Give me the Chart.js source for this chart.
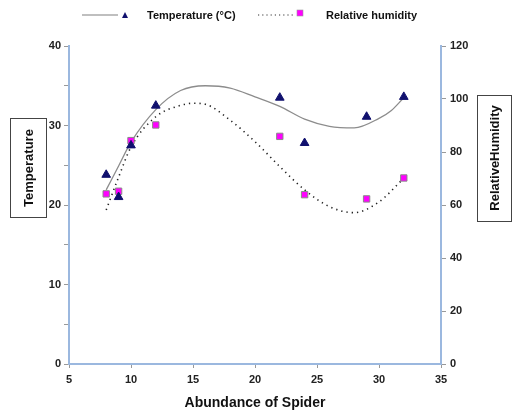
<!DOCTYPE html>
<html><head><meta charset="utf-8">
<script src="https://cdn.jsdelivr.net/npm/chart.js@4"></script>
<style>html,body{margin:0;padding:0;background:#fff}#wrap{width:513px;height:414px;position:relative}</style>
</head><body><div id="wrap"><canvas id="c" width="513" height="414"></canvas></div>
<script>
// Data
const abundance = [8, 9, 10, 12, 22, 24, 29, 32];
const temperature = [23.8, 21.0, 27.5, 32.5, 33.5, 27.8, 31.1, 33.6];
const humidity = [64.2, 65.2, 84.3, 90.2, 85.9, 63.9, 62.3, 70.2];
// Trendlines
const tempTrendX = [8, 9, 10, 12, 14, 16, 18, 20, 22, 24, 26, 28, 30, 31, 32];
const tempTrendY = [21.9, 24.9, 27.9, 32.0, 34.4, 35.0, 34.7, 33.6, 32.4, 30.8, 29.9, 29.7, 30.9, 31.9, 33.5];
const humTrendX = [8, 9, 10, 12, 14, 15, 16, 18, 20, 22, 24, 26, 28, 30, 32];
const humTrendY = [58.1, 70.5, 81.9, 93.3, 97.6, 98.4, 98.0, 92.0, 83.9, 74.5, 65.7, 59.4, 57.1, 61.2, 70.1];
const xTicks = [5, 10, 15, 20, 25, 30, 35];
const leftTicks = [0, 10, 20, 30, 40];
const rightTicks = [0, 20, 40, 60, 80, 100, 120];
const legendLabels = ['Temperature (°C)', 'Relative humidity'];
const axisTitles = {x: 'Abundance of Spider', left: 'Temperature', right: 'RelativeHumidity'};

const pts = (xs, ys) => xs.map((x, i) => ({x: x, y: ys[i]}));
const FONT = '"Liberation Sans", Arial, sans-serif';
const AXIS_BLUE = '#9bb8df';
const NAVY = '#10106e';
const MAGENTA = '#ff00ff';

const overlay = {
  id: 'overlay',
  afterDraw(chart) {
    const ctx = chart.ctx;
    ctx.save();
    // legend
    const ly = 15;
    ctx.strokeStyle = '#808080'; ctx.lineWidth = 1.2; ctx.setLineDash([]);
    ctx.beginPath(); ctx.moveTo(82, ly); ctx.lineTo(118, ly); ctx.stroke();
    ctx.fillStyle = NAVY;
    ctx.beginPath(); ctx.moveTo(125, ly - 3); ctx.lineTo(128, ly + 3); ctx.lineTo(122, ly + 3); ctx.closePath(); ctx.fill();
    ctx.font = 'bold 11px ' + FONT; ctx.fillStyle = '#111'; ctx.textBaseline = 'middle'; ctx.textAlign = 'left';
    ctx.fillText(legendLabels[0], 147, ly + 1);
    ctx.strokeStyle = '#333'; ctx.setLineDash([1.2, 3]);
    ctx.beginPath(); ctx.moveTo(258, ly); ctx.lineTo(295, ly); ctx.stroke();
    ctx.setLineDash([]);
    ctx.fillStyle = MAGENTA; ctx.fillRect(297, ly - 5, 6, 6);
    ctx.strokeStyle = '#999'; ctx.lineWidth = 0.6; ctx.strokeRect(297, ly - 5, 6, 6);
    ctx.fillStyle = '#111';
    ctx.fillText(legendLabels[1], 326, ly + 1);
    // left title box
    ctx.strokeStyle = '#444'; ctx.lineWidth = 1;
    ctx.strokeRect(10.5, 118.5, 36, 99);
    ctx.save(); ctx.translate(29, 168); ctx.rotate(-Math.PI / 2);
    ctx.font = 'bold 13px ' + FONT; ctx.textAlign = 'center'; ctx.textBaseline = 'middle';
    ctx.fillText(axisTitles.left, 0, 0); ctx.restore();
    // right title box
    ctx.strokeRect(477.5, 95.5, 34, 126);
    ctx.save(); ctx.translate(495, 158); ctx.rotate(-Math.PI / 2);
    ctx.font = 'bold 13px ' + FONT; ctx.textAlign = 'center'; ctx.textBaseline = 'middle';
    ctx.fillText(axisTitles.right, 0, 0); ctx.restore();
    ctx.restore();
  }
};

new Chart(document.getElementById('c'), {
  type: 'scatter',
  data: {
    datasets: [
      {label: 'Temperature (°C)', data: pts(abundance, temperature), yAxisID: 'y', pointStyle: 'triangle', pointRadius: 5, backgroundColor: NAVY, borderColor: NAVY, borderWidth: 1, showLine: false},
      {label: 'Relative humidity', data: pts(abundance, humidity), yAxisID: 'y1', pointStyle: 'rect', pointRadius: 4.5, backgroundColor: MAGENTA, borderColor: '#8a8a8a', borderWidth: 1, showLine: false},
      {label: 'Temp trend', data: pts(tempTrendX, tempTrendY), yAxisID: 'y', showLine: true, pointRadius: 0, borderColor: '#8c8c8c', borderWidth: 1.3, cubicInterpolationMode: 'monotone', fill: false},
      {label: 'Hum trend', data: pts(humTrendX, humTrendY), yAxisID: 'y1', showLine: true, pointRadius: 0, borderColor: '#222', borderWidth: 1.6, borderDash: [1.3, 4], cubicInterpolationMode: 'monotone', fill: false}
    ]
  },
  options: {
    responsive: false, animation: false, devicePixelRatio: 1,
    layout: {padding: {top: 46, bottom: 0, left: 0, right: 0}},
    plugins: {legend: {display: false}, tooltip: {enabled: false}},
    scales: {
      x: {
        type: 'linear', min: 5, max: 35,
        afterBuildTicks: s => { s.ticks = xTicks.map(v => ({value: v})); },
        afterFit: s => { s.height = 50; },
        border: {color: AXIS_BLUE, width: 2},
        grid: {drawOnChartArea: false, drawTicks: true, tickLength: 4, color: '#999'},
        ticks: {color: '#222', font: {family: FONT, size: 11, weight: 'bold'}, padding: 5},
        title: {display: true, text: axisTitles.x, color: '#111', font: {family: FONT, size: 14, weight: 'bold'}, padding: {top: 6, bottom: 2}}
      },
      y: {
        type: 'linear', position: 'left', min: 0, max: 40,
        ticks: {stepSize: 5, callback: v => leftTicks.includes(v) ? String(v) : '', color: '#222', font: {family: FONT, size: 11, weight: 'bold'}, padding: 3},
        afterFit: s => { s.width = 69; },
        border: {color: AXIS_BLUE, width: 2},
        grid: {drawOnChartArea: false, drawTicks: true, tickLength: 5, color: '#999'}
      },
      y1: {
        type: 'linear', position: 'right', min: 0, max: 120,
        afterBuildTicks: s => { s.ticks = rightTicks.map(v => ({value: v})); },
        ticks: {color: '#222', font: {family: FONT, size: 11, weight: 'bold'}, padding: 4},
        afterFit: s => { s.width = 72; },
        border: {color: AXIS_BLUE, width: 2},
        grid: {drawOnChartArea: false, drawTicks: true, tickLength: 5, color: '#999'}
      }
    }
  },
  plugins: [overlay]
});
</script></body></html>
